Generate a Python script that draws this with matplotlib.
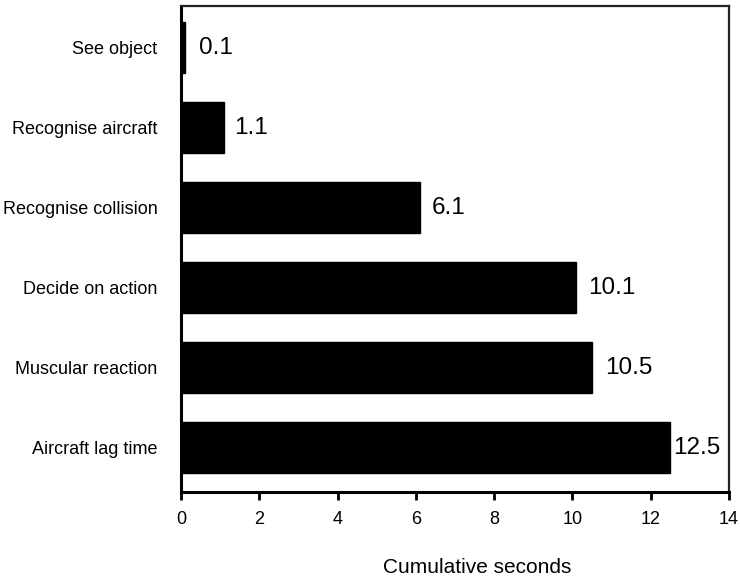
import matplotlib
matplotlib.use("Agg")
import matplotlib.pyplot as plt
from matplotlib import font_manager

categories = ["See object", "Recognise aircraft", "Recognise collision",
              "Decide on action", "Muscular reaction", "Aircraft lag time"]
cumulative_seconds = [0.1, 1.1, 6.1, 10.1, 10.5, 12.5]
value_labels = ["0.1", "1.1", "6.1", "10.1", "10.5", "12.5"]
xticks = [0, 2, 4, 6, 8, 10, 12, 14]

installed = {f.name for f in font_manager.fontManager.ttflist}
narrow = "Liberation Sans Narrow" if "Liberation Sans Narrow" in installed else "Liberation Sans"
narrow_size = 15 if narrow == "Liberation Sans Narrow" else 13

fig = plt.figure(figsize=(7.4, 5.76), dpi=100)
ax = fig.add_axes([0.2446, 0.146, 0.7404, 0.8436])

ypos = list(range(len(categories)))
ax.barh(ypos, cumulative_seconds, height=0.64, color="black", edgecolor="black")

# value labels to the right of each bar (pixel gaps)
offsets = [14, 10, 12, 12, 13, 3]
for y, v, lab, off in zip(ypos, cumulative_seconds, value_labels, offsets):
    ax.annotate(lab, (v, y), xytext=(off * 0.72, 0), textcoords="offset points",
                ha="left", va="center", fontsize=17.5, family="Liberation Sans")

ax.set_xlim(0, 14)
ax.set_ylim(5.55, -0.52)
ax.set_xticks(xticks)
ax.set_xticklabels([str(t) for t in xticks], family=narrow, fontsize=narrow_size)
ax.set_yticks(ypos)
ax.set_yticklabels(categories, family=narrow, fontsize=narrow_size)
ax.tick_params(axis="y", length=0, pad=17)
ax.tick_params(axis="x", direction="out", length=6, width=2, pad=8)

ax.set_xlabel("Cumulative seconds", family="Liberation Sans", fontsize=15)
ax.xaxis.set_label_coords(0.54, -0.135)

for side in ("left", "bottom"):
    ax.spines[side].set_linewidth(2.2)
for side in ("top", "right"):
    ax.spines[side].set_linewidth(1.6)
    ax.spines[side].set_color("#222222")

fig.savefig("out.png", dpi=100)
